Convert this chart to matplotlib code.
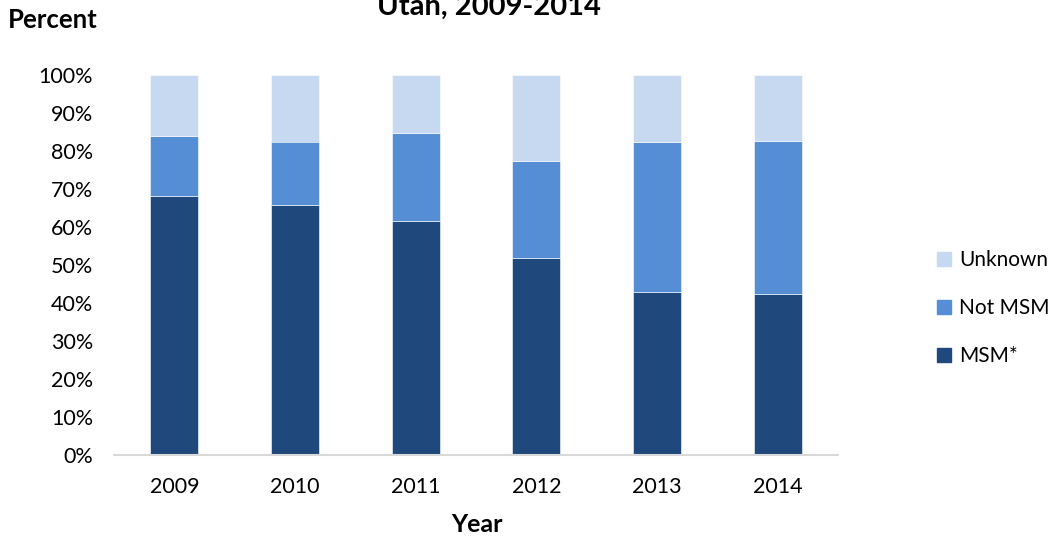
import matplotlib
matplotlib.use("Agg")
import matplotlib.pyplot as plt
from matplotlib.patches import Patch
import numpy as np

years = ["2009", "2010", "2011", "2012", "2013", "2014"]
msm = [68.2, 65.9, 61.5, 51.8, 42.8, 42.3]
not_msm = [15.8, 16.6, 23.3, 25.7, 39.6, 40.3]
unknown = [16.0, 17.5, 15.2, 22.5, 17.6, 17.4]
yticks = [0, 10, 20, 30, 40, 50, 60, 70, 80, 90, 100]

c_msm = "#1F497D"
c_not = "#558ED5"
c_unk = "#C6D9F1"

plt.rcParams['font.family'] = ['Lato', 'DejaVu Sans']

fig = plt.figure(figsize=(10.58, 5.37), dpi=100)
W, H = 1058, 537
ax = fig.add_axes([114 / W, 1 - 455 / H, (838 - 114) / W, (455 - 75) / H])

x = np.arange(len(years))
bw = 0.4
ax.bar(x, msm, bw, color=c_msm, edgecolor="white", linewidth=0.4)
ax.bar(x, not_msm, bw, bottom=msm, color=c_not, edgecolor="white", linewidth=0.4)
bottom2 = [a + b for a, b in zip(msm, not_msm)]
ax.bar(x, unknown, bw, bottom=bottom2, color=c_unk, edgecolor="white", linewidth=0.4)

ax.set_xlim(-0.5, len(years) - 0.5)
ax.set_ylim(0, 100)
ax.set_xticks(x)
ax.set_xticklabels(years, fontsize=15.5)
ax.set_yticks(yticks)
ax.set_yticklabels([f"{v}%" for v in yticks], fontsize=15.5)
ax.tick_params(length=0)
ax.tick_params(axis='y', pad=15)
ax.tick_params(axis='x', pad=16)
for s in ["top", "right", "left"]:
    ax.spines[s].set_visible(False)
ax.spines["bottom"].set_color("#D9D9D9")
ax.spines["bottom"].set_linewidth(1.5)

fig.text(8 / W, 1 - 20 / H, "Percent", fontsize=18.5, fontweight="bold", va="center", ha="left")
fig.text(489 / W, 1 - 15 / H, "Utah, 2009-2014", fontsize=21, fontweight="bold", va="baseline", ha="center")
fig.text(477 / W, 1 - 524 / H, "Year", fontsize=18, fontweight="bold", va="center", ha="center")

handles = [Patch(color=c_unk, label="Unknown"), Patch(color=c_not, label="Not MSM"), Patch(color=c_msm, label="MSM*")]
fig.legend(handles=handles, loc="center left", bbox_to_anchor=(927 / W, 1 - 308 / H), frameon=False,
           fontsize=15, handlelength=0.65, handleheight=0.65, handletextpad=0.4, labelspacing=1.35, borderpad=0)

fig.savefig("out.png", dpi=100)
